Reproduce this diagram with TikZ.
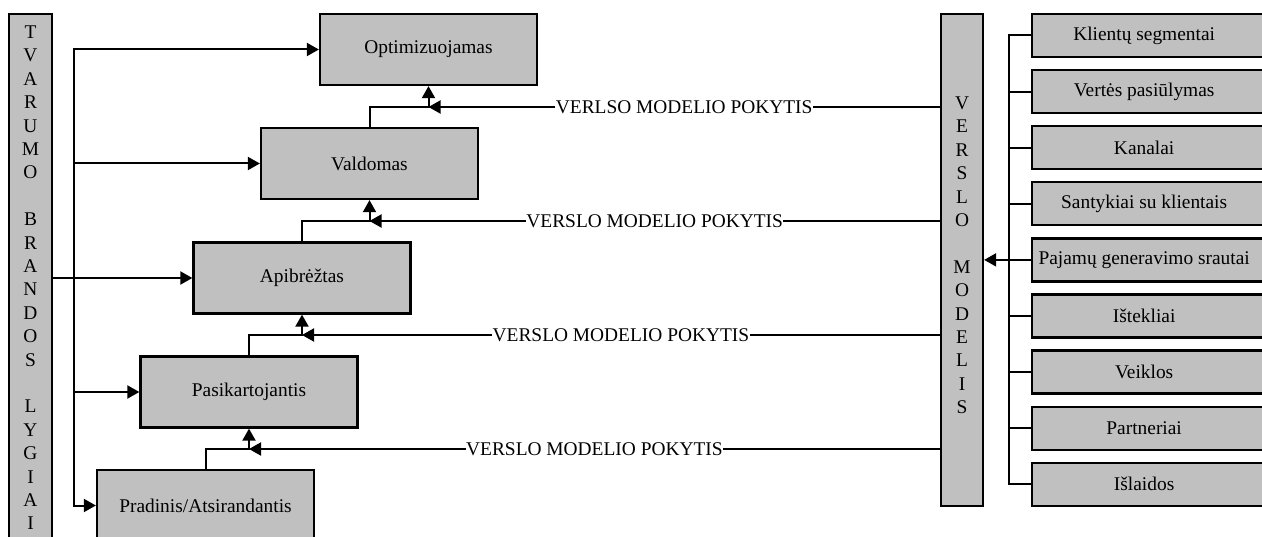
\documentclass[tikz,border=0pt]{standalone}
\usepackage{fontspec}
\setmainfont{Liberation Serif}
\usetikzlibrary{arrows.meta}
\definecolor{boxgray}{RGB}{192,192,192}
\newcommand\diagfont{\fontsize{19.4pt}{23.4pt}\selectfont}
% centred text in a 224pt field, box running on past the right edge
\newcommand\rbtext[1]{\hbox to 300pt{\hbox to 224pt{\hss#1\hss}\hss}}
\begin{document}
\begin{tikzpicture}[x=1pt,y=-1pt,
  lvl/.style={draw, line width=2.3pt, fill=boxgray, minimum width=217pt,
    minimum height=71pt, inner sep=0pt, font=\diagfont},
  part/.style={draw, line width=2.3pt, fill=boxgray, minimum height=43pt,
    inner sep=0pt, anchor=west, font=\diagfont},
  bar/.style={draw, line width=2.3pt, fill=boxgray, inner sep=0pt},
  vtext/.style={align=center, inner sep=0pt, anchor=north, font=\diagfont},
  link/.style={line width=2pt, line cap=rect},
  arr/.style={line width=2pt, line cap=rect, -{Triangle[length=12pt,width=13pt]}},
  lbl/.style={fill=white, inner xsep=0.5pt, inner ysep=2pt, font=\diagfont}]
\useasboundingbox (0,0) rectangle (1262,537);
\clip (0,0) rectangle (1262,537);
\fill[white] (0,0) rectangle (1262,537);

% maturity levels bar (left)
\node[bar, minimum width=43pt, minimum height=546pt] (lb) at (30.5,287) {};
\node[vtext] (lbt) at (30.5,25.6)
  {T\\V\\A\\R\\U\\M\\O\\[23.4pt]B\\R\\A\\N\\D\\O\\S\\[23.4pt]L\\Y\\G\\I\\A\\I};

% business model bar (right)
\node[bar, minimum width=42pt, minimum height=492pt] (vm) at (962,260) {};
\node[vtext] (vmt) at (962,96.6)
  {V\\E\\R\\S\\L\\O\\[23.4pt]M\\O\\D\\E\\L\\I\\S};

% maturity levels
\node[lvl] (opt)  at (428.5,49.5) {Optimizuojamas};
\node[lvl] (vald) at (369.5,163.5) {Valdomas};
\node[lvl] (apib) at (302,278) {Apibrėžtas};
\node[lvl] (pas)  at (249,392) {Pasikartojantis};
\node[lvl] (prad) at (205.5,505.5) {Pradinis/Atsirandantis};

% business model components
\foreach \i/\t in {1/Klientų segmentai, 2/Vertės pasiūlymas, 3/Kanalai,
    4/Santykiai su klientais, 5/Pajamų generavimo srautai, 6/Ištekliai,
    7/Veiklos, 8/Partneriai, 9/Išlaidos}
  \node[part] (rb\i) at (1031,{35.5+(\i-1)*56.1}) {\rbtext{\t}};

% left trunk feeding every level
\coordinate (tr) at (74,0);
\draw[arr] (opt.west -| tr) |- (prad.west);
\draw[arr] (opt.west -| tr) -- (opt.west);
\draw[arr] (vald.west -| tr) -- (vald.west);
\draw[arr] (pas.west -| tr) -- (pas.west);
\draw[arr] (lb.east |- apib.west) -- (apib.west);

% junctions between consecutive levels
\coordinate (j1) at (428.5,107);
\coordinate (j2) at (369.5,221);
\coordinate (j3) at (302,335);
\coordinate (j4) at (249,449);

\draw[link] (vald.north) |- (j1);
\draw[arr] (j1) -- (opt.south);
\draw[arr] (vm.west |- j1) -- node[lbl] {VERLSO MODELIO POKYTIS} (j1);

\draw[link] (apib.north) |- (j2);
\draw[arr] (j2) -- (vald.south);
\draw[arr] (vm.west |- j2) -- node[lbl] {VERSLO MODELIO POKYTIS} (j2);

\draw[link] (pas.north) |- (j3);
\draw[arr] (j3) -- (apib.south);
\draw[arr] (vm.west |- j3) -- node[lbl] {VERSLO MODELIO POKYTIS} (j3);

\draw[link] (prad.north) |- (j4);
\draw[arr] (j4) -- (pas.south);
\draw[arr] (vm.west |- j4) -- node[lbl] {VERSLO MODELIO POKYTIS} (j4);

% components collected into the business model
\coordinate (sp) at (1009,0);
\draw[link] (rb1.west -| sp) -- (rb9.west -| sp);
\foreach \i in {1,...,9}
  \draw[link] (rb\i.west -| sp) -- (rb\i.west);
\draw[arr] (rb5.west -| sp) -- (vm.east |- rb5.west);
\end{tikzpicture}
\end{document}
